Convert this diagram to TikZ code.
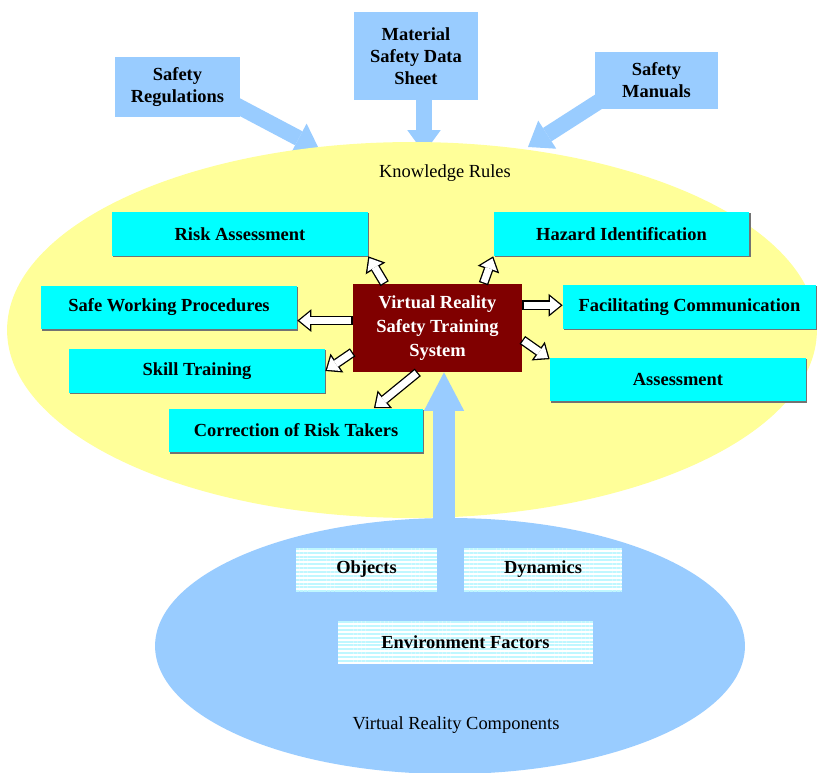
\documentclass[tikz,border=0pt]{standalone}
\usepackage{fontspec}
\setmainfont{Liberation Serif}
\usetikzlibrary{shapes.geometric,arrows.meta,shadows,patterns.meta}

\definecolor{kryellow}{HTML}{FFFF99}
\definecolor{srcblue}{HTML}{99CCFF}
\definecolor{topiccyan}{HTML}{00FFFF}
\definecolor{corered}{HTML}{800000}
\definecolor{partcyan}{HTML}{BFF7FF}

\begin{document}
\begin{tikzpicture}[x=0.02cm,y=-0.02cm,
   plain/.style={font=\fontsize{10.5}{12.5}\selectfont},
   source/.style={fill=srcblue,inner sep=1pt,align=center,
      font=\fontsize{10.5}{12.5}\selectfont\bfseries},
   topic/.style={fill=topiccyan,minimum width=5.12cm,minimum height=0.88cm,
      inner sep=1pt,font=\fontsize{10.5}{12.5}\selectfont\bfseries,
      drop shadow={shadow xshift=0.8pt,shadow yshift=-0.8pt,fill=black!55,opacity=1}},
   core/.style={fill=corered,text=white,minimum width=3.38cm,minimum height=1.76cm,
      align=center,inner sep=1pt,font=\fontsize{10.5}{13.5}\selectfont\bfseries},
   part/.style={preaction={fill=white},pattern={Lines[distance=2.2pt,line width=1.1pt]},
      pattern color=partcyan,minimum height=0.88cm,inner sep=1pt,
      font=\fontsize{10.5}{12.5}\selectfont\bfseries},
   feed/.style={draw=srcblue,line width=9pt,shorten <=-4pt,
      -{Triangle[length=13pt,width=19pt,line width=0pt]}},
   feedbig/.style={draw=srcblue,line width=12pt,
      -{Triangle[length=22pt,width=23pt,line width=0pt]}},
   spoke/.style={draw=black,line width=5.5pt,
      -{Triangle[length=8pt,width=13pt,line width=0pt]},
      postaction={draw=white,line width=4pt,
      -{Triangle[length=6pt,width=9.8pt,line width=0pt]},
      shorten >=1.2pt,shorten <=0.75pt}}]

   \path[use as bounding box,fill=white] (0,0) rectangle (818,773);

   \coordinate (regstip) at (319,149);
   \coordinate (msdstip) at (424,153);
   \coordinate (manualstip) at (528,147);

   \path (177.5,87) node[source,minimum width=2.5cm,minimum height=1.2cm] (regs)
      {Safety\\Regulations};
   \path (416,56) node[source,minimum width=2.48cm,minimum height=1.76cm] (msds)
      {Material\\Safety Data\\Sheet};
   \path (656.5,80.5) node[source,minimum width=2.46cm,minimum height=1.14cm] (manuals)
      {Safety\\Manuals};

   \draw[feed] (regs.342) -- (regstip);
   \draw[feed,shorten <=0pt] (msds.south -| msdstip) -- (msdstip);
   \draw[feed] (manuals.201) -- (manualstip);

   \path (412,330) node[ellipse,fill=kryellow,minimum width=16.2cm,
      minimum height=7.52cm,inner sep=0pt] (kr) {};
   \path (450,646) node[ellipse,fill=srcblue,minimum width=11.8cm,
      minimum height=5.12cm,inner sep=0pt] (vrc) {};

   \path (445,173) node[plain] (krlabel) {Knowledge Rules};
   \path (456,725) node[plain] (vrclabel) {Virtual Reality Components};

   \path (437.5,328) node[core] (vr) {Virtual Reality\\Safety Training\\System};

   \coordinate (vrbase) at (444,540);
   \draw[feedbig] (vrbase) -- (vr.south -| vrbase);

   \path (240,234) node[topic] (risk) {Risk Assessment};
   \path (621.5,234) node[topic] (hazard) {Hazard Identification};
   \path (169,307.5) node[topic] (procs) {Safe Working Procedures};
   \path (197,371) node[topic] (skill) {Skill Training};
   \path (296,430.5) node[topic,minimum width=5.08cm] (correct) {Correction of Risk Takers};
   \path (689.5,307) node[topic,minimum width=5.06cm] (comms) {Facilitating Communication};
   \path (678,379.5) node[topic] (assess) {Assessment};

   \path (366.5,569.5) node[part,minimum width=2.82cm] (objects) {Objects};
   \path (543,569.5) node[part,minimum width=3.16cm] (dynamics) {Dynamics};
   \path (465.5,642.5) node[part,minimum width=5.1cm,minimum height=0.86cm] (envf)
      {Environment Factors};

   \draw[spoke] (vr.140) -- (risk.south east);
   \draw[spoke] (vr.44) -- (hazard.south west);
   \draw[spoke] (vr.175) -- (vr.175 -| procs.east);
   \draw[spoke] (vr.196) -- (skill.east);
   \draw[spoke] (vr.246) -- (correct.16);
   \draw[spoke] (vr.15) -- (vr.15 -| comms.west);
   \draw[spoke] (vr.352) -- (assess.171);
\end{tikzpicture}
\end{document}
